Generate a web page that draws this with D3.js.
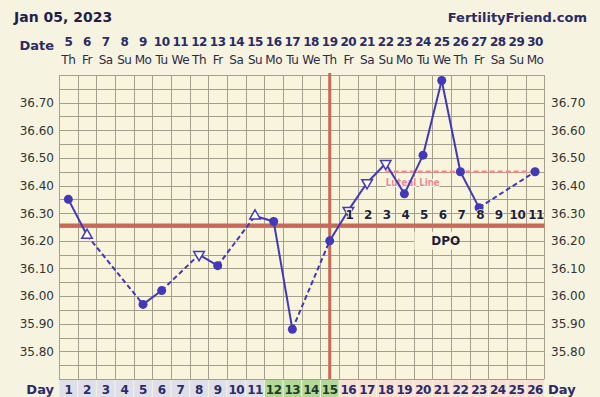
<!DOCTYPE html>
<html>
<head>
<meta charset="utf-8">
<script src="https://cdn.jsdelivr.net/npm/d3@7"></script>
<style>
  html, body { margin: 0; padding: 0; background: #f6f4e0; }
  svg { display: block; }
</style>
</head>
<body>
<div id="chart"></div>
<script>
// chart data
const cycleDays = d3.range(1, 27);
const dateNums = [5, 6, 7, 8, 9, 10, 11, 12, 13, 14, 15, 16, 17, 18, 19, 20, 21, 22, 23, 24, 25, 26, 27, 28, 29, 30];
const weekDays = ["Th", "Fr", "Sa", "Su", "Mo", "Tu", "We", "Th", "Fr", "Sa", "Su", "Mo", "Tu",
                  "We", "Th", "Fr", "Sa", "Su", "Mo", "Tu", "We", "Th", "Fr", "Sa", "Su", "Mo"];
const temps = [36.35, 36.22, null, null, 35.97, 36.02, null, 36.15, 36.11, null, 36.29, 36.27, 35.88,
               null, 36.20, 36.31, 36.41, 36.48, 36.37, 36.51, 36.78, 36.45, 36.32, null, null, 36.45];
// "c" = filled circle, "u" = open triangle up, "d" = open triangle down
const markers = ["c", "u", "", "", "c", "c", "", "d", "c", "", "u", "c", "c",
                 "", "c", "d", "d", "d", "c", "c", "c", "c", "c", "", "", "c"];
const phase = ["g", "g", "g", "g", "g", "g", "g", "g", "g", "g", "g", "f", "f",
               "f", "f", "l", "l", "l", "l", "l", "l", "l", "l", "l", "l", "l"];
const dpoDays = d3.range(16, 27);
const dpoNums = d3.range(1, 12);
const yTicks = [35.80, 35.90, 36.00, 36.10, 36.20, 36.30, 36.40, 36.50, 36.60, 36.70];
const coverline = 36.255;
const ovulationDay = 15;
const lutealLine = { from: 18, to: 26, temp: 36.45 };

const W = 600, H = 397;
const plot = { left: 59, right: 544.4, top: 75, bottom: 379 };
const navy = "#2b2b66";
const lineBlue = "#4238b8";
const red = "#c86a5a";
const font = "'DejaVu Sans', Verdana, sans-serif";

const svg = d3.select("#chart").append("svg")
  .attr("width", W)
  .attr("height", H);

svg.append("rect")
  .attr("width", W)
  .attr("height", H)
  .attr("fill", "#f6f4e0");

const x = d3.scaleBand()
  .domain(cycleDays)
  .range([plot.left, plot.right]);

const y = d3.scaleLinear()
  .domain([35.70, 36.80])
  .range([plot.bottom, plot.top]);

const cx = d => x(d) + x.bandwidth() / 2;

// plot background
svg.append("rect")
  .attr("x", plot.left)
  .attr("y", plot.top)
  .attr("width", plot.right - plot.left)
  .attr("height", plot.bottom - plot.top)
  .attr("fill", "#f8f5dc");

// grid
const hLines = d3.range(0, 23).map(i => 35.70 + i * 0.05);
svg.selectAll(".hgrid")
  .data(hLines)
  .enter()
  .append("line")
  .attr("x1", plot.left)
  .attr("x2", plot.right)
  .attr("y1", d => Math.round(y(d)) + 0.5)
  .attr("y2", d => Math.round(y(d)) + 0.5)
  .attr("stroke", "#a39f8c")
  .attr("stroke-width", 1);

const vLines = cycleDays.map(d => x(d)).concat([plot.right]);
svg.selectAll(".vgrid")
  .data(vLines)
  .enter()
  .append("line")
  .attr("x1", d => Math.round(d) + 0.5)
  .attr("x2", d => Math.round(d) + 0.5)
  .attr("y1", plot.top)
  .attr("y2", plot.bottom)
  .attr("stroke", "#a39f8c")
  .attr("stroke-width", 1);

// title texts
svg.append("text")
  .attr("x", 14)
  .attr("y", 22)
  .attr("font-family", font)
  .attr("font-weight", "bold")
  .attr("font-size", "14px")
  .attr("fill", "#1f1f4a")
  .text("Jan 05, 2023");

svg.append("text")
  .attr("x", 587)
  .attr("y", 22)
  .attr("text-anchor", "end")
  .attr("font-family", font)
  .attr("font-weight", "bold")
  .attr("font-size", "13px")
  .attr("fill", "#2a2a66")
  .text("FertilityFriend.com");

// date row
svg.append("text")
  .attr("x", 54)
  .attr("y", 50)
  .attr("text-anchor", "end")
  .attr("font-family", font)
  .attr("font-weight", "bold")
  .attr("font-size", "13px")
  .attr("fill", navy)
  .text("Date");

svg.selectAll(".date-num")
  .data(cycleDays)
  .enter()
  .append("text")
  .attr("x", d => cx(d))
  .attr("y", 46)
  .attr("text-anchor", "middle")
  .attr("font-family", font)
  .attr("font-weight", "bold")
  .attr("font-size", "12px")
  .attr("letter-spacing", "-0.5px")
  .attr("fill", navy)
  .text(d => dateNums[d - 1]);

svg.selectAll(".week-day")
  .data(cycleDays)
  .enter()
  .append("text")
  .attr("x", d => cx(d))
  .attr("y", 64)
  .attr("text-anchor", "middle")
  .attr("font-family", font)
  .attr("font-size", "12px")
  .attr("letter-spacing", "-0.5px")
  .attr("fill", "#2a2a4a")
  .text(d => weekDays[d - 1]);

// y labels both sides
svg.selectAll(".ylab-left")
  .data(yTicks)
  .enter()
  .append("text")
  .attr("x", 54)
  .attr("y", d => y(d))
  .attr("dy", "0.36em")
  .attr("text-anchor", "end")
  .attr("font-family", font)
  .attr("font-size", "12px")
  .attr("fill", "#333")
  .text(d => d.toFixed(2));

svg.selectAll(".ylab-right")
  .data(yTicks)
  .enter()
  .append("text")
  .attr("x", 551)
  .attr("y", d => y(d))
  .attr("dy", "0.36em")
  .attr("text-anchor", "start")
  .attr("font-family", font)
  .attr("font-size", "12px")
  .attr("fill", "#333")
  .text(d => d.toFixed(2));

// day row
const phaseFill = { g: "#dedfe8", f: "#b3d998", l: "#f7e1d6" };
svg.selectAll(".day-cell")
  .data(cycleDays)
  .enter()
  .append("rect")
  .attr("x", d => x(d) + 0.5)
  .attr("y", plot.bottom + 1)
  .attr("width", x.bandwidth() - 1)
  .attr("height", H - plot.bottom)
  .attr("fill", d => phaseFill[phase[d - 1]]);

svg.selectAll(".day-num")
  .data(cycleDays)
  .enter()
  .append("text")
  .attr("x", d => cx(d))
  .attr("y", 394)
  .attr("text-anchor", "middle")
  .attr("font-family", font)
  .attr("font-weight", "bold")
  .attr("font-size", "12px")
  .attr("letter-spacing", "-0.5px")
  .attr("fill", d => phase[d - 1] === "f" ? "#1e3b2a" : navy)
  .text(d => d);

svg.append("text")
  .attr("x", 54)
  .attr("y", 394)
  .attr("text-anchor", "end")
  .attr("font-family", font)
  .attr("font-weight", "bold")
  .attr("font-size", "13px")
  .attr("fill", navy)
  .text("Day");

svg.append("text")
  .attr("x", 548)
  .attr("y", 394)
  .attr("font-family", font)
  .attr("font-weight", "bold")
  .attr("font-size", "13px")
  .attr("fill", navy)
  .text("Day");

// coverline and ovulation line
svg.append("line")
  .attr("x1", plot.left)
  .attr("x2", plot.right)
  .attr("y1", y(coverline))
  .attr("y2", y(coverline))
  .attr("stroke", red)
  .attr("stroke-width", 4);

svg.append("line")
  .attr("x1", cx(ovulationDay))
  .attr("x2", cx(ovulationDay))
  .attr("y1", plot.top - 2)
  .attr("y2", plot.bottom)
  .attr("stroke", red)
  .attr("stroke-width", 3);

svg.append("rect")
  .attr("x", x(21) - 18)
  .attr("y", y(36.20) - 9)
  .attr("width", 40)
  .attr("height", 18)
  .attr("fill", "#f8f5dc");

svg.append("text")
  .attr("x", cx(21) + 4)
  .attr("y", y(36.20))
  .attr("dy", "0.36em")
  .attr("text-anchor", "middle")
  .attr("font-family", font)
  .attr("font-weight", "bold")
  .attr("font-size", "12px")
  .attr("fill", "#1e1e3c")
  .text("DPO");

// luteal line
svg.append("line")
  .attr("x1", cx(lutealLine.from))
  .attr("x2", cx(lutealLine.to))
  .attr("y1", y(lutealLine.temp))
  .attr("y2", y(lutealLine.temp))
  .attr("stroke", "#ee8a8a")
  .attr("stroke-width", 2.5)
  .attr("stroke-dasharray", "5,3");

svg.append("text")
  .attr("x", cx(lutealLine.from) + 27)
  .attr("y", y(lutealLine.temp) + 10)
  .attr("dy", "0.36em")
  .attr("text-anchor", "middle")
  .attr("font-family", font)
  .attr("font-weight", "bold")
  .attr("font-size", "10.5px")
  .attr("textLength", 54)
  .attr("lengthAdjust", "spacingAndGlyphs")
  .attr("fill", "#ec8a8a")
  .attr("stroke", "#fffaf0")
  .attr("stroke-width", 2)
  .attr("paint-order", "stroke")
  .text("Luteal Line");

// temperature line segments
const points = cycleDays
  .map(d => ({ day: d, temp: temps[d - 1], marker: markers[d - 1] }))
  .filter(p => p.temp !== null);

const segments = d3.pairs(points);
svg.selectAll(".seg")
  .data(segments)
  .enter()
  .append("line")
  .attr("x1", d => cx(d[0].day))
  .attr("y1", d => y(d[0].temp))
  .attr("x2", d => cx(d[1].day))
  .attr("y2", d => y(d[1].temp))
  .attr("stroke", lineBlue)
  .attr("stroke-width", 2)
  .attr("stroke-dasharray", d => d[1].day - d[0].day > 1 ? "5,3" : null);

// markers
svg.selectAll(".dot")
  .data(points.filter(p => p.marker === "c"))
  .enter()
  .append("circle")
  .attr("cx", d => cx(d.day))
  .attr("cy", d => y(d.temp))
  .attr("r", 4.5)
  .attr("fill", lineBlue);

const tri = d3.symbol().type(d3.symbolTriangle).size(48);
svg.selectAll(".tri")
  .data(points.filter(p => p.marker === "u" || p.marker === "d"))
  .enter()
  .append("path")
  .attr("d", tri)
  .attr("transform", d => `translate(${cx(d.day)},${y(d.temp)}) rotate(${d.marker === "d" ? 180 : 0})`)
  .attr("fill", "#ffffff")
  .attr("stroke", lineBlue)
  .attr("stroke-width", 1.5);

// DPO numbers on top of the temperature line
svg.selectAll(".dpo")
  .data(dpoDays)
  .enter()
  .append("text")
  .attr("x", d => cx(d) + 1)
  .attr("y", y(36.30) + 1)
  .attr("dy", "0.36em")
  .attr("text-anchor", "middle")
  .attr("font-family", font)
  .attr("font-weight", "bold")
  .attr("font-size", "12px")
  .attr("letter-spacing", "-0.5px")
  .attr("fill", "#1e1e3c")
  .attr("stroke", "#f8f5dc")
  .attr("stroke-width", 1.5)
  .attr("paint-order", "stroke")
  .text((d, i) => dpoNums[i]);
</script>
</body>
</html>
